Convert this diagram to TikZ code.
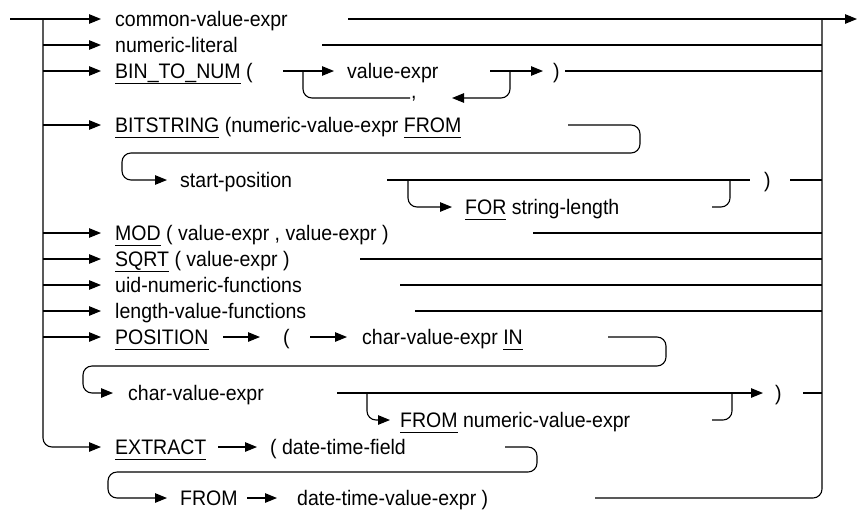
\documentclass[tikz,border=0pt]{standalone}
\usepackage{fontspec}
\setmainfont{Liberation Sans}[FakeStretch=0.93]
\usetikzlibrary{arrows.meta}
\newcommand{\kw}[1]{\leavevmode\setbox0\hbox{#1}\rlap{\rule[-5pt]{\wd0}{0.9pt}}\box0\relax}
\tikzset{
  rail/.style={line width=1.1pt},
  feed/.style={rail, -{Triangle[length=12pt,width=9.5pt]}},
  word/.style={anchor=west, inner sep=0pt, text height=15pt, text depth=0pt,
    font=\fontsize{21}{24}\selectfont},
}
\begin{document}
\begin{tikzpicture}[x=1pt,y=-1pt]
  \useasboundingbox (0,0) rectangle (858,512);
  \coordinate (in) at (10,19);
  \coordinate (L) at (43,19);
  \coordinate (R) at (822,19);
  \coordinate (out) at (857,19);

  % labels
  \node[word] (cve) at (115,19) {common-value-expr};
  \node[word] (nlit) at (115,45) {numeric-literal};
  \node[word] (b2n) at (115,71) {\kw{BIN\_TO\_NUM} (};
  \node[word] (b2nv) at (347,71) {value-expr};
  \node[word] (b2nc) at (411,91) {,};
  \node[word] (b2nr) at (553,71) {)};
  \node[word] (bits) at (115,125) {\kw{BITSTRING} (numeric-value-expr \kw{FROM}};
  \node[word] (spos) at (180,180) {start-position};
  \node[word] (forl) at (465,207) {\kw{FOR} string-length};
  \node[word] (bitsr) at (764,180) {)};
  \node[word] (mod) at (115,233) {\kw{MOD} ( value-expr , value-expr )};
  \node[word] (sqrt) at (115,259) {\kw{SQRT} ( value-expr )};
  \node[word] (uid) at (115,285) {uid-numeric-functions};
  \node[word] (lenf) at (115,311) {length-value-functions};
  \node[word] (pos) at (115,337) {\kw{POSITION}};
  \node[word] (posp) at (283,337) {(};
  \node[word] (posc) at (362,337) {char-value-expr \kw{IN}};
  \node[word] (posc2) at (128,393) {char-value-expr};
  \node[word] (posf) at (400,420) {\kw{FROM} numeric-value-expr};
  \node[word] (posr) at (775,393) {)};
  \node[word] (ext) at (115,447) {\kw{EXTRACT}};
  \node[word] (extp) at (270,447) {( date-time-field};
  \node[word] (extf) at (180,498) {FROM};
  \node[word] (extv) at (297,498) {date-time-value-expr )};

  % spine and branches
  \draw[feed] (in) -- ([xshift=-14pt]cve.west);
  \foreach \n in {nlit,b2n,bits,mod,sqrt,uid,lenf,pos}
    \draw[feed] (L |- \n.west) -- ([xshift=-14pt]\n.west);
  \draw[feed, rounded corners=9pt] (L) |- ([xshift=-14pt]ext.west);
  \draw[feed] (348,19) -- (out);
  \draw[rail, rounded corners=9pt] (595,498) -| (R);
  \foreach \x/\y in {322/45, 565/71, 790/180, 533/233, 360/259, 400/285, 415/311, 803/393}
    \draw[rail] (\x,\y) -- (R |- \x,\y);

  % BIN_TO_NUM
  \draw[feed] (283,71) -- ([xshift=-13pt]b2nv.west);
  \draw[rail, rounded corners=9pt] (303,71) |- (410,98);
  \draw[feed] (490,71) -- ([xshift=-10pt]b2nr.west);
  \draw[feed, rounded corners=9pt] (510,71) |- (452,98);

  % BITSTRING
  \draw[feed, rounded corners=9pt] (568,125) -- (640,125) -- (640,153)
    -- (122,153) -- (122,180) -- ([xshift=-13pt]spos.west);
  \draw[rail] (387,180) -- (750,180);
  \draw[feed, rounded corners=9pt] (408,180) |- ([xshift=-13pt]forl.west);
  \draw[rail, rounded corners=9pt] (712,207) -| (730,180);

  % POSITION
  \draw[feed] (223,337) -- ([xshift=-23pt]posp.west);
  \draw[feed] (310,337) -- ([xshift=-15pt]posc.west);
  \draw[feed, rounded corners=9pt] (608,337) -- (666,337) -- (666,366)
    -- (83,366) -- (83,393) -- ([xshift=-15pt]posc2.west);
  \draw[feed] (337,393) -- ([xshift=-12pt]posr.west);
  \draw[feed, rounded corners=9pt] (367,393) |- ([xshift=-10pt]posf.west);
  \draw[rail, rounded corners=9pt] (712,420) -| (732,393);

  % EXTRACT
  \draw[feed] (218,447) -- ([xshift=-13pt]extp.west);
  \draw[feed, rounded corners=9pt] (505,447) -- (537,447) -- (537,472)
    -- (108,472) -- (108,498) -- ([xshift=-13pt]extf.west);
  \draw[feed] (247,498) -- ([xshift=-20pt]extv.west);
\end{tikzpicture}
\end{document}
